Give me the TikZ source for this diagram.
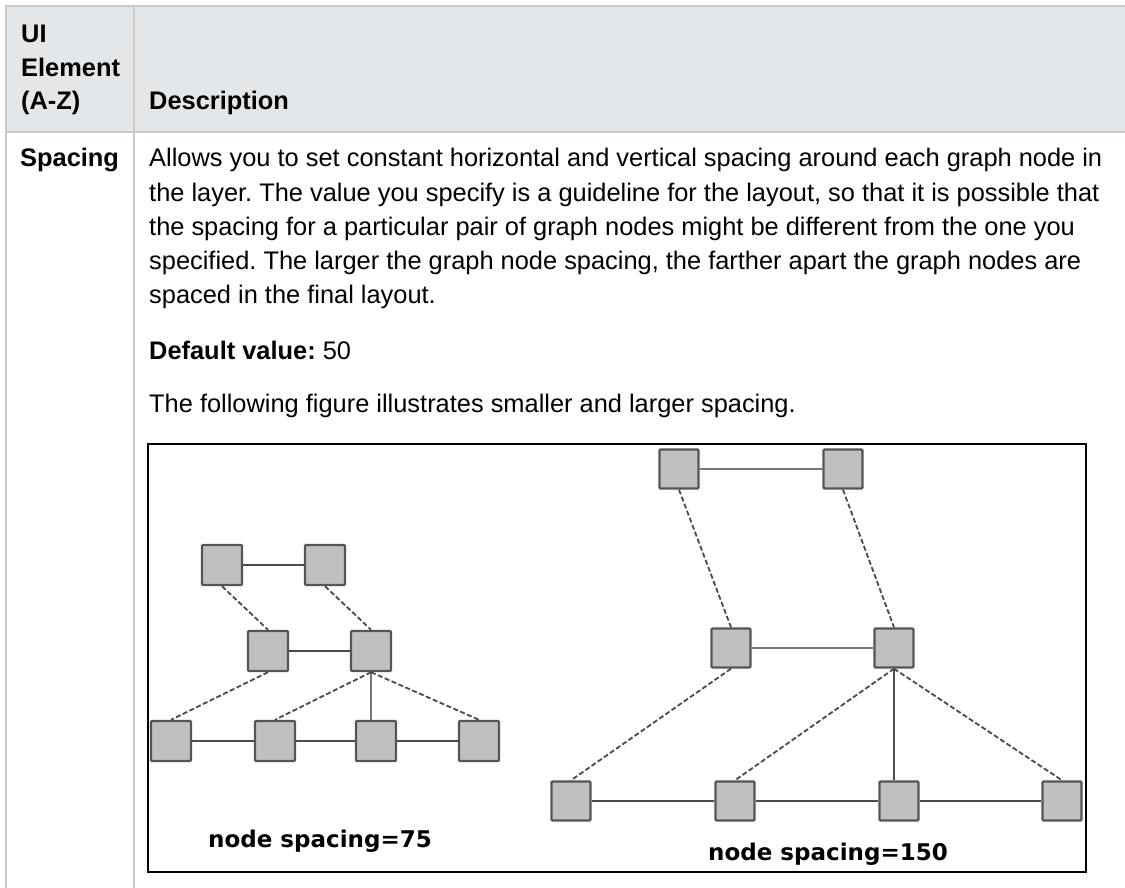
\documentclass[tikz,border=0pt]{standalone}
\usepackage{fontspec}
\setmainfont{Liberation Sans}
\newfontfamily\figfont{DejaVu Sans}
\usetikzlibrary{positioning}
\definecolor{headgray}{HTML}{E4E7E9}
\definecolor{rulegray}{HTML}{CACACA}
\definecolor{boxfill}{HTML}{C0C0C0}
\definecolor{boxline}{HTML}{555555}
\definecolor{edgegray}{HTML}{4A4A4A}
\frenchspacing

\begin{document}
\begin{tikzpicture}[x=1pt, y=-1pt,
  txt/.style={anchor=base west, inner sep=0pt, font=\fontsize{25.4}{34}\selectfont},
  headtxt/.style={anchor=base west, inner sep=0pt, font=\fontsize{25.4}{34}\selectfont\bfseries},
  gnode/.style={rectangle, draw=boxline, fill=boxfill, line width=2.4pt, minimum size=40pt, inner sep=0pt, rounded corners=1pt},
  gnodeW/.style={gnode, minimum size=39pt},
  solidedge/.style={line width=2pt, edgegray},
  thinedge/.style={line width=1.4pt, edgegray!75},
  dashedge/.style={line width=1.8pt, edgegray, dash pattern=on 5pt off 2.5pt},
  caption/.style={anchor=base, inner sep=0pt, font=\figfont\bfseries\fontsize{23}{28}\selectfont}
]
\useasboundingbox (0,0) rectangle (1125,888);
% table header and rules
\fill[headgray] (6,6) rectangle (1125,132);
\draw[rulegray, line width=2pt] (5,6) -- (1125,6);
\draw[rulegray, line width=2pt] (6,132) -- (1125,132);
\draw[rulegray, line width=2pt] (6,5) -- (6,888);
\draw[rulegray, line width=2pt] (134,5) -- (134,888);
\node[headtxt] (hUI) at (21,43) {UI};
\node[headtxt] (hElem) at (21,77) {Element};
\node[headtxt] (hAZ) at (21,110) {(A-Z)};
\node[headtxt] (hDesc) at (149,110) {Description};
% row: Spacing
\node[headtxt] (elem) at (20,167) {Spacing};
\node[txt] (d1) at (149,167) {Allows you to set constant horizontal and vertical spacing around each graph node in};
\node[txt] (d2) at (149,201) {the layer. The value you specify is a guideline for the layout, so that it is possible that};
\node[txt] (d3) at (149,235) {the spacing for a particular pair of graph nodes might be different from the one you};
\node[txt] (d4) at (149,269) {specified. The larger the graph node spacing, the farther apart the graph nodes are};
\node[txt] (d5) at (149,303) {spaced in the final layout.};
\node[txt] (dflt) at (149,359) {\textbf{Default value:} 50};
\node[txt] (intro) at (149,412) {The following figure illustrates smaller and larger spacing.};
% figure frame
\draw[line width=2pt] (148,444) rectangle (1086,872);
% node spacing=75
\node[gnode] (s1) at (222,565) {};
\node[gnode] (s2) at (325,565) {};
\node[gnode] (s3) at (268,651) {};
\node[gnode] (s4) at (371,651) {};
\node[gnode] (s5) at (171,741) {};
\node[gnode] (s6) at (275,741) {};
\node[gnode] (s7) at (376,741) {};
\node[gnode] (s8) at (479,741) {};
\draw[solidedge] (s1) -- (s2);
\draw[solidedge] (s3) -- (s4);
\draw[solidedge] (s5) -- (s6);
\draw[solidedge] (s6) -- (s7);
\draw[solidedge] (s7) -- (s8);
\draw[thinedge] (s4.south) -- (s4.south |- s7.north);
\draw[dashedge] (s1.south) -- (s3.north);
\draw[dashedge] (s2.south) -- (s4.north);
\draw[dashedge] (s3.south) -- (s5.north);
\draw[dashedge] (s4.south) -- (s6.north);
\draw[dashedge] (s4.south) -- (s8.north);
\node[caption] (cap75) at (320,847) {node spacing=75};
% node spacing=150
\node[gnodeW] (w1) at (679,469) {};
\node[gnodeW] (w2) at (843,469) {};
\node[gnodeW] (w3) at (731,648) {};
\node[gnodeW] (w4) at (894,648) {};
\node[gnodeW] (w5) at (571,801) {};
\node[gnodeW] (w6) at (735,801) {};
\node[gnodeW] (w7) at (899,801) {};
\node[gnodeW] (w8) at (1062,801) {};
\draw[thinedge] (w1) -- (w2);
\draw[thinedge] (w3) -- (w4);
\draw[solidedge] (w5) -- (w6);
\draw[solidedge] (w6) -- (w7);
\draw[solidedge] (w7) -- (w8);
\draw[solidedge] (w4.south) -- (w4.south |- w7.north);
\draw[dashedge] (w1.south) -- (w3.north);
\draw[dashedge] (w2.south) -- (w4.north);
\draw[dashedge] (w3.south) -- (w5.north);
\draw[dashedge] (w4.south) -- (w6.north);
\draw[dashedge] (w4.south) -- (w8.north);
\node[caption] (cap150) at (828,860) {node spacing=150};
\end{tikzpicture}
\end{document}
